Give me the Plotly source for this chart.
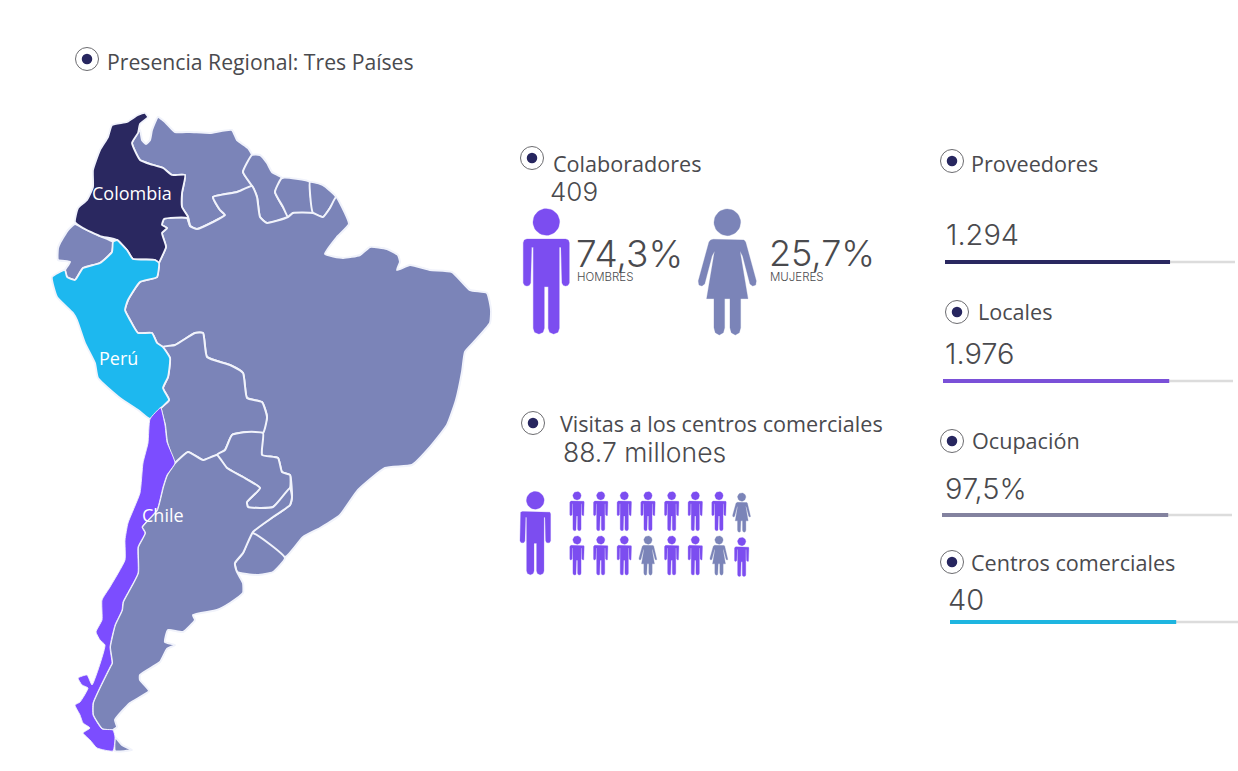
import numpy as np
import plotly.graph_objects as go

# ---- map outlines (map units, y down) ----
colombia = [(145,113),(148,117),(140,124),(138,133),(132,143),(140,160),(153,165),(163,168),(172,175),(185,175),(182,193),(182,207),(188,217),(190,226),(187,218),(164,219),(162,225),(167,228),(162,233),(166,247),(159,263),(157,277),(155,260),(133,259),(127,250),(117,240),(100,236),(83,228),(75,222),(78,208),(87,200),(93,187),(93,170),(100,150),(108,137),(112,125),(127,122),(138,115)]
venezuela = [(132,143),(140,130),(142,140),(146,144),(150,140),(152,130),(158,117),(165,122),(175,132),(190,132),(210,133),(232,130),(237,140),(248,148),(252,155),(243,172),(252,186),(237,192),(213,197),(220,210),(225,215),(213,222),(197,229),(190,226),(188,217),(182,207),(182,193),(185,175),(172,175),(163,168),(153,165),(140,160)]
guyana = [(252,155),(260,155),(267,163),(272,172),(282,178),(275,192),(283,207),(288,217),(267,223),(260,217),(257,197),(252,186),(243,172)]
suriname = [(282,178),(310,182),(310,193),(313,213),(293,213),(288,217),(283,207),(275,192)]
guiana_fr = [(310,182),(323,185),(336,197),(330,208),(323,217),(313,213),(310,193)]
brazil = [(288,217),(293,213),(313,213),(323,217),(330,208),(336,197),(340,203),(349,224),(337,237),(325,254),(343,258),(360,255),(370,247),(387,249),(398,255),(400,262),(397,270),(410,265),(430,270),(452,272),(470,290),(487,293),(491,310),(490,323),(473,343),(465,352),(462,372),(456,400),(447,425),(430,447),(412,465),(385,468),(358,490),(340,515),(320,528),(303,537),(285,557),(252,533),(273,517),(290,505),(292,497),(290,475),(282,472),(278,458),(262,455),(263,433),(267,417),(262,402),(247,398),(243,373),(230,365),(207,357),(203,333),(195,333),(175,345),(163,347),(157,343),(152,333),(138,333),(130,320),(125,310),(128,300),(140,282),(157,277),(159,263),(166,247),(162,233),(167,228),(162,225),(164,219),(187,218),(190,226),(197,229),(213,222),(225,215),(220,210),(213,197),(237,192),(252,186),(257,197),(260,217),(267,223)]
ecuador = [(60,243),(68,230),(75,224),(83,228),(100,236),(113,242),(112,252),(100,263),(83,268),(75,280),(67,277),(65,270),(70,262),(58,260),(58,248)]
peru = [(113,242),(117,240),(127,250),(133,259),(155,260),(159,263),(157,277),(140,282),(128,300),(125,310),(130,320),(138,333),(152,333),(157,343),(163,347),(170,358),(168,377),(163,388),(169,400),(161,408),(150,419),(138,410),(120,398),(98,378),(95,363),(85,343),(77,320),(73,313),(57,297),(52,277),(65,270),(67,277),(75,280),(83,268),(100,263),(112,252)]
bolivia = [(163,347),(175,345),(195,333),(203,333),(207,357),(230,365),(243,373),(247,398),(262,402),(267,417),(263,433),(247,432),(232,435),(225,450),(217,455),(203,460),(188,452),(175,463),(167,442),(165,425),(161,408),(169,400),(163,388),(168,377),(170,358)]
paraguay = [(263,433),(262,455),(278,458),(282,472),(290,475),(290,488),(273,507),(248,507),(247,502),(260,488),(243,477),(227,468),(217,455),(225,450),(232,435),(247,432)]
uruguay = [(252,533),(285,558),(273,572),(257,575),(237,572),(235,563),(243,553)]
argentina = [(175,463),(188,452),(203,460),(217,455),(227,468),(243,477),(260,488),(247,502),(248,507),(273,507),(290,488),(292,497),(290,505),(273,517),(253,532),(243,553),(235,563),(237,572),(243,583),(243,593),(230,603),(217,610),(193,615),(195,620),(183,632),(168,630),(165,642),(175,645),(167,649),(160,662),(140,675),(140,680),(149,691),(130,703),(115,720),(117,727),(113,730),(102,729),(93,715),(93,703),(102,683),(110,667),(112,663),(110,647),(115,625),(122,610),(123,602),(138,573),(138,547),(145,533),(142,527),(157,510),(163,487),(167,475)]
fuego = [(115,737),(122,745),(132,750),(115,751)]
chile = [(160,408),(150,419),(148,443),(143,463),(140,493),(128,523),(125,540),(125,560),(110,587),(102,600),(102,620),(96,632),(100,640),(105,645),(98,670),(92,685),(87,675),(78,678),(82,685),(88,688),(80,702),(75,705),(80,715),(83,723),(90,728),(83,733),(90,740),(97,748),(113,751),(115,737),(113,730),(102,729),(93,715),(93,703),(102,683),(110,667),(112,663),(110,647),(115,625),(122,610),(123,602),(138,573),(138,547),(145,533),(142,527),(157,510),(163,487),(167,475),(175,463),(167,442),(165,425),(161,408)]

others = [venezuela, guyana, suriname, guiana_fr, brazil, ecuador, bolivia, paraguay, uruguay, argentina, fuego]
focus = [(colombia, "#2a2860", 1.8), (peru, "#1db8ef", 1.8), (chile, "#7c4dff", 0.9)]
country_names = ["Colombia", "Perú", "Chile"]

# ---- figures shown ----
title = "Presencia Regional: Tres Países"
collab_label, collab_value = "Colaboradores", "409"
men_share, women_share = "74,3%", "25,7%"
men_label, women_label = "HOMBRES", "MUJERES"
visits_label, visits_value = "Visitas a los centros comerciales", "88.7 millones"
visits_row1 = list("MMMMMMMW")
visits_row2 = list("MMMWMMWM")
kpi_labels = ["Proveedores", "Locales", "Ocupación", "Centros comerciales"]
kpi_values = ["1.294", "1.976", "97,5%", "40"]
kpi_fill = [0.776, 0.78, 0.78, 0.78]
kpi_colors = ["#2a2860", "#7a50d8", "#83829f", "#1eb5e0"]

MAP_BLUE = "#7b84b8"
PURPLE = "#7c4df0"
INK = "#4a4a4e"
NAVY = "#27265f"

# glyph outlines, in units of the big icon (375 tall)
man_body = [(-58,90),(58,90),(66,93),(69,101),(69,222),(65,229),(58,231),(51,229),(47,222),(44,115),(39,115),(39,358),(35,370),(22,375),(10,370),(6,358),(6,233),(-6,233),(-6,358),(-10,370),(-22,375),(-35,370),(-39,358),(-39,115),(-44,115),(-47,222),(-51,229),(-58,231),(-65,229),(-69,222),(-69,101),(-66,93)]
woman_body = [(-42,90),(42,90),(50,92),(55,98),(87,215),(85,227),(76,230),(68,224),(46,140),(38,125),(62,268),(40,268),(40,355),(36,370),(24,377),(12,370),(8,355),(8,268),(-8,268),(-8,355),(-12,370),(-24,377),(-36,370),(-40,355),(-40,268),(-62,268),(-38,125),(-46,140),(-68,224),(-76,230),(-85,227),(-87,215),(-55,98),(-50,92)]
HEAD_R, HEAD_CY = 40, 39

fig = go.Figure()


def poly(points, color, line="#f1f3fb", lw=2.0):
    xs, ys = zip(*points)
    fig.add_trace(go.Scatter(x=list(xs) + [xs[0]], y=list(ys) + [ys[0]], mode="lines", fill="toself",
                             fillcolor=color, line=dict(color=line, width=lw, shape="spline", smoothing=0.45),
                             hoverinfo="skip"))


for shape in others:
    poly(shape, MAP_BLUE)
for shape, color, lw in focus:
    poly(shape, color, lw=lw)


def person(kind, cx, top, height, color):
    s = height / 375
    body = man_body if kind == "M" else woman_body
    t = np.linspace(0, 2 * np.pi, 37)
    xs = list(cx + HEAD_R * s * np.cos(t)) + [None] + [cx + p[0] * s for p in body] + [cx + body[0][0] * s]
    ys = list(top + (HEAD_CY + HEAD_R * np.sin(t)) * s) + [None] + [top + p[1] * s for p in body] + [top + body[0][1] * s]
    fig.add_trace(go.Scatter(x=xs, y=ys, mode="lines", fill="toself", fillcolor=color,
                             line=dict(color=color, width=0.3), hoverinfo="skip"))


person("M", 546.3, 209, 125, PURPLE)
person("W", 727.3, 209.3, 125, MAP_BLUE)
person("M", 535.3, 491.7, 83, PURPLE)
small_x = [577, 600.7, 624.3, 648, 671.7, 695.3, 719, 741.7]
for kind, x in zip(visits_row1, small_x):
    person(kind, x, 491.7 if kind == "M" else 493, 39, PURPLE if kind == "M" else MAP_BLUE)
for kind, x in zip(visits_row2, small_x):
    person(kind, x, 536 if x < 741 else 537.5, 39, PURPLE if kind == "M" else MAP_BLUE)

# progress bars
bar_geom = [(945, 1235, 262), (943, 1233, 381), (942, 1232, 515), (950, 1240, 622)]
for (x0, x1, y), share, color in zip(bar_geom, kpi_fill, kpi_colors):
    fig.add_trace(go.Scatter(x=[x0, x1], y=[y, y], mode="lines", line=dict(color="#dcdcdc", width=2.5), hoverinfo="skip"))
    fig.add_trace(go.Scatter(x=[x0, x0 + share * (x1 - x0)], y=[y, y], mode="lines", line=dict(color=color, width=4), hoverinfo="skip"))

# bullets
bullets = [(87, 59), (532, 158), (533, 423), (952, 161), (957, 312), (952, 441), (952, 562)]
fig.add_trace(go.Scatter(x=[b[0] for b in bullets], y=[b[1] for b in bullets], mode="markers",
                         marker=dict(size=23, color="white", line=dict(color="#6c6c70", width=1)), hoverinfo="skip"))
fig.add_trace(go.Scatter(x=[b[0] for b in bullets], y=[b[1] for b in bullets], mode="markers",
                         marker=dict(size=10.5, color=NAVY), hoverinfo="skip"))

HUM = "Open Sans"
NUM = "Inter"


def text(x, y, s, size, family=HUM, color=INK, weight=400):
    fig.add_annotation(x=x, y=y, text=s, showarrow=False, xanchor="left", yanchor="middle",
                       xref="x", yref="y", align="left",
                       font=dict(family=family, size=size, color=color, weight=weight))


text(105, 61, title, 21.2)
text(551, 163, collab_label, 21.6)
text(548, 191, collab_value, 26, NUM, weight=300)
text(574, 253, men_share, 37, NUM, weight=300)
text(767, 253, women_share, 36, NUM, weight=300)
text(575, 277, men_label, 11.5, NUM, weight=300)
text(768, 277, women_label, 11.5, NUM, weight=300)
text(558, 423, visits_label, 21.6)
text(561, 452, visits_value, 26.5, NUM, weight=300)
label_pos = [(969, 163), (976, 311), (970, 440), (969, 562)]
value_pos = [(944, 234), (943, 353), (943, 488), (946, 599)]
for (x, y), s in zip(label_pos, kpi_labels):
    text(x, y, s, 21.6)
for (x, y), s in zip(value_pos, kpi_values):
    text(x, y, s, 29, NUM, weight=300)
for (x, y), s in zip([(90, 193), (97, 358), (140, 515)], country_names):
    text(x, y, s, 18, color="white")

fig.update_layout(width=1238, height=771, margin=dict(l=0, r=0, t=0, b=0), showlegend=False,
                  paper_bgcolor="white", plot_bgcolor="white",
                  xaxis=dict(range=[0, 1238], visible=False, fixedrange=True),
                  yaxis=dict(range=[771, 0], visible=False, fixedrange=True))
fig.write_html("out.html", config=dict(displayModeBar=False),
               post_script="document.body.style.margin='0';document.body.style.overflow='hidden';")
